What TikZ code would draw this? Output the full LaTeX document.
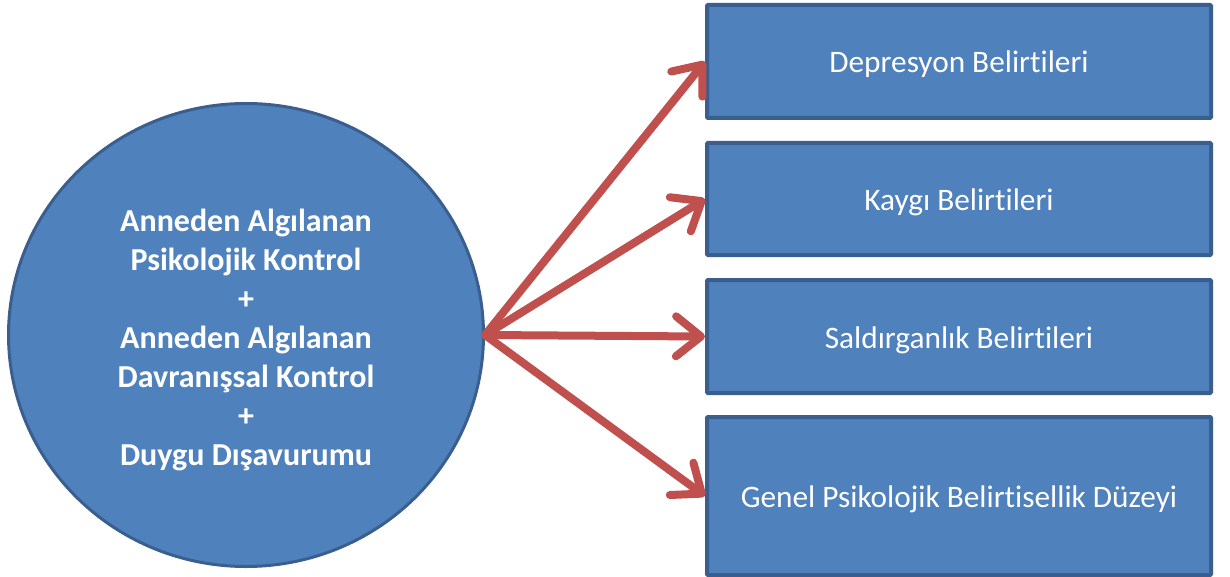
\documentclass[tikz,border=0pt]{standalone}
\usepackage{fontspec}
\setmainfont[Ligatures={NoCommon}]{Carlito}
\usetikzlibrary{arrows.meta,shapes.geometric}
\definecolor{boxfill}{HTML}{4F81BD}
\definecolor{boxline}{HTML}{3A5F8E}
\definecolor{arrowred}{HTML}{C0504D}
\tikzset{
  box/.style={draw=boxline, line width=4pt, fill=boxfill, rectangle, rounded corners=1pt,
    minimum width=504pt, inner sep=0pt, text height=23pt, text depth=0pt,
    text=white, font=\fontsize{31.3}{36}\selectfont},
  bigcircle/.style={draw=boxline, line width=3pt, fill=boxfill, ellipse, inner sep=0pt,
    minimum width=475pt, minimum height=463pt},
  circletext/.style={inner sep=0pt, text=white, align=center,
    font=\fontsize{32}{39}\selectfont\bfseries},
  link/.style={draw=arrowred, line width=8pt, line cap=round,
    -{Straight Barb[length=25pt, width=40pt, line cap=round, line join=round]}}
}
\begin{document}
\begin{tikzpicture}[x=1pt,y=-1pt]
\useasboundingbox (0,0) rectangle (1230,577);
\node[bigcircle] (c) at (246,335) {};
\node[circletext] (ct) at (246,340) {Anneden Algılanan\\Psikolojik Kontrol\\+\\Anneden Algılanan\\Davranışsal Kontrol\\+\\Duygu Dışavurumu};
\node[box, minimum height=113pt] (b1) at (959,61.5) {Depresyon Belirtileri};
\node[box, minimum height=112pt] (b2) at (959,199) {Kaygı Belirtileri};
\node[box, minimum height=113pt] (b3) at (959,336.5) {Saldırganlık Belirtileri};
\node[box, minimum height=158pt] (b4) at (959,496) {Genel Psikolojik Belirtisellik Düzeyi};
\draw[link] (c.east) -- (b1.west);
\draw[link] (c.east) -- (b2.west);
\draw[link] (c.east) -- (b3.west);
\draw[link] (c.east) -- (b4.west);
\end{tikzpicture}
\end{document}
